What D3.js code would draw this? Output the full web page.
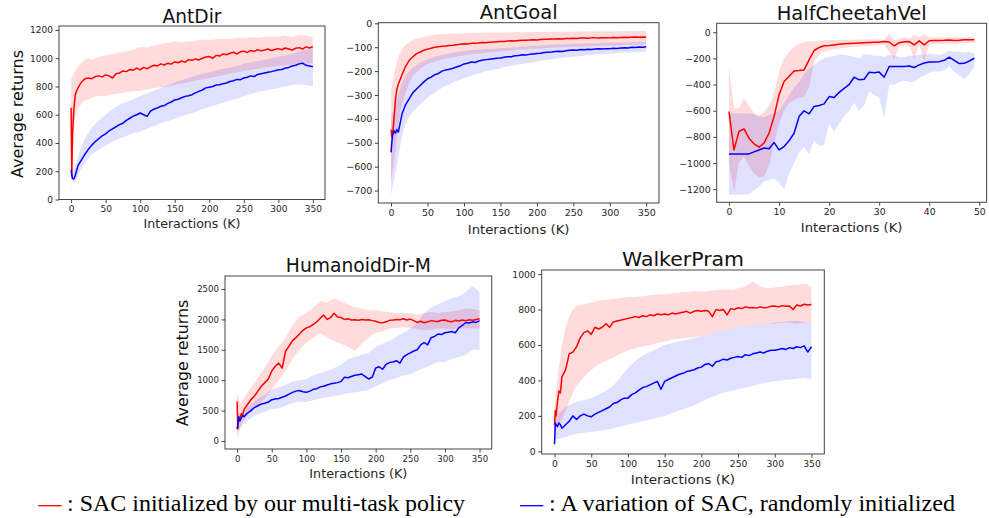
<!DOCTYPE html>
<html>
<head>
<meta charset="utf-8">
<script src="https://cdn.jsdelivr.net/npm/d3@7"></script>
<style>
  body { margin: 0; background: #fff; }
  svg { display: block; }
</style>
</head>
<body>
<svg id="fig" width="989" height="518"></svg>
<script>
// Learning curves: SAC from multi-task policy (red) vs random init (blue)

// x positions (K interactions) of the mean curves and of the shaded bands
var xs350 = [0,1,2,4,6,8,10,
  15,20,25,30,35,40,45,50,55,60,
  65,70,75,80,85,90,95,100,105,110,
  115,120,125,130,135,140,145,150,155,160,
  165,170,175,180,185,190,195,200,205,210,
  215,220,225,230,235,240,245,250,255,260,
  265,270,275,280,285,290,295,300,305,310,
  315,320,325,330,335,340,345,350];
var bandXs350 = [0,5,10,15,20,25,30,
  40,50,60,70,80,90,100,110,120,130,
  140,150,160,170,180,190,200,210,220,230,
  240,250,260,270,280,290,300,310,320,330,
  340,350];
var cheetahXs = [0,1,2,3,4,5,6,7,8,9,10,11,12,13,14,15,16,17,18,19,
  20,21,22,23,24,25,26,27,28,29,30,31,32,33,34,35,36,37,38,39,
  40,41,42,43,44,45,46,47,48,49];

// tick labels
var ticks350 = [0,50,100,150,200,250,300,350];
var ticksCheetahX = [0,10,20,30,40,50];
var antDirYTicks = [0,200,400,600,800,1000,1200];
var antGoalYTicks = [0,-100,-200,-300,-400,-500,-600,-700];
var cheetahYTicks = [0,-200,-400,-600,-800,-1000,-1200];
var humanoidYTicks = [0,500,1000,1500,2000,2500];
var walkerYTicks = [0,200,400,600,800,1000];

var panelTitles = ["AntDir","AntGoal","HalfCheetahVel","HumanoidDir-M","WalkerPram"];
var xAxisLabel = "Interactions (K)";
var yAxisLabel = "Average returns";
var legendLabels = [": SAC initialized by our multi-task policy", ": A variation of SAC, randomly initialized"];

// ---- AntDir ----
var antDirRed = [650,170,450,640,740,770,790,
  830,855,860,855,870,875,868,882,875,860,
  890,895,910,905,920,915,930,918,935,925,
  940,950,945,960,952,965,958,975,968,980,
  972,990,985,995,988,1000,1008,1012,1000,1020,
  1015,1030,1025,1035,1042,1030,1045,1050,1040,1055,
  1048,1060,1052,1058,1065,1055,1062,1068,1060,1072,
  1065,1058,1070,1075,1065,1080,1072,1082];
var antDirBlue = [210,175,150,145,170,205,240,
  280,320,355,385,410,430,450,465,485,500,
  515,530,540,560,575,590,600,612,600,588,
  625,640,648,660,665,680,690,705,710,720,
  730,735,742,755,765,775,790,795,800,810,
  812,820,825,835,840,850,848,860,865,875,
  870,885,890,895,900,905,912,918,920,930,
  935,945,950,960,965,950,945,940];
var antDirRedHi = [850,900,940,970,990,1000,990,
  1010,1020,1030,1040,1050,1060,1080,1075,1090,1100,
  1110,1120,1115,1120,1125,1130,1130,1135,1140,1135,
  1145,1140,1150,1145,1150,1155,1150,1160,1150,1165,
  1160,1150];
var antDirRedLo = [60,560,640,680,700,710,720,
  735,730,745,750,760,765,770,780,790,795,
  800,810,820,830,840,850,860,870,880,890,
  900,910,918,925,935,940,945,950,955,958,
  960,965];
var antDirBlueHi = [230,220,300,380,430,470,510,
  560,600,640,670,690,710,730,750,770,790,
  810,830,845,860,875,890,900,915,925,935,
  945,960,970,980,990,1000,1010,1020,1030,1050,
  1060,1070];
var antDirBlueLo = [150,110,170,220,260,290,320,
  350,380,410,430,450,470,480,500,520,540,
  555,570,590,605,620,640,655,670,685,700,
  715,730,745,760,770,780,790,800,810,815,
  810,800];

// ---- AntGoal ----
var antGoalRed = [-445,-475,-470,-400,-320,-275,-255,
  -215,-180,-155,-140,-127,-120,-113,-108,-104,-100,
  -98,-96,-95,-93,-92,-90,-88,-86,-87,-84,
  -83,-82,-80,-81,-79,-78,-77,-76,-76,-74,
  -73,-74,-72,-71,-71,-70,-69,-70,-68,-67,
  -67,-66,-66,-65,-66,-64,-64,-63,-64,-62,
  -62,-63,-61,-61,-62,-60,-60,-61,-59,-60,
  -59,-58,-59,-58,-57,-58,-57,-58];
var antGoalBlue = [-540,-500,-470,-450,-460,-445,-455,
  -380,-340,-315,-290,-275,-260,-245,-232,-225,-215,
  -210,-200,-195,-192,-188,-183,-178,-170,-167,-162,
  -164,-158,-155,-152,-150,-148,-146,-145,-142,-140,
  -140,-136,-135,-132,-133,-130,-128,-126,-125,-122,
  -121,-120,-118,-117,-118,-115,-113,-112,-113,-110,
  -111,-109,-110,-108,-107,-108,-106,-106,-104,-105,
  -103,-102,-103,-100,-101,-99,-100,-98];
var antGoalRedHi = [-280,-200,-140,-110,-90,-80,-70,
  -60,-52,-48,-46,-44,-43,-42,-41,-40,-40,
  -39,-38,-38,-37,-37,-36,-36,-36,-35,-35,
  -35,-34,-34,-34,-33,-33,-33,-33,-32,-32,
  -32,-32];
var antGoalRedLo = [-660,-560,-420,-340,-290,-250,-220,
  -190,-170,-160,-150,-145,-140,-135,-130,-127,-123,
  -120,-118,-115,-112,-110,-108,-106,-104,-102,-100,
  -99,-98,-97,-96,-95,-94,-93,-92,-91,-90,
  -90,-88];
var antGoalBlueHi = [-400,-340,-300,-250,-220,-200,-185,
  -165,-150,-140,-132,-126,-120,-116,-112,-110,-108,
  -106,-104,-102,-100,-98,-96,-94,-92,-90,-89,
  -88,-86,-85,-84,-83,-82,-81,-80,-80,-79,
  -78,-78];
var antGoalBlueLo = [-720,-640,-560,-470,-420,-390,-370,
  -340,-310,-290,-270,-255,-240,-230,-220,-210,-200,
  -195,-188,-180,-175,-170,-165,-160,-155,-150,-146,
  -142,-140,-137,-134,-131,-128,-126,-124,-122,-121,
  -120,-118];

// ---- HalfCheetahVel ----
var cheetahRed = [-606,-899,-759,-739,-810,-853,-879,-848,-772,-645,
  -479,-377,-339,-296,-293,-288,-211,-140,-117,-104,
  -102,-97,-92,-89,-87,-85,-83,-81,-79,-77,
  -76,-72,-75,-104,-80,-73,-72,-97,-66,-97,
  -65,-64,-63,-62,-60,-64,-62,-58,-57,-57];
var cheetahBlue = [-930,-930,-930,-930,-930,-915,-900,-885,-890,-843,
  -899,-874,-830,-772,-645,-601,-624,-568,-560,-548,
  -492,-499,-460,-430,-400,-344,-364,-360,-306,-310,
  -305,-344,-262,-262,-262,-262,-258,-270,-250,-235,
  -228,-228,-225,-215,-191,-215,-240,-238,-220,-199];
var cheetahRedHi = [-262,-581,-582,-504,-560,-620,-640,-610,-560,-470,
  -300,-200,-150,-110,-90,-75,-70,-70,-65,-62,
  -60,-60,-60,-58,-58,-57,-56,-55,-55,-54,
  -54,-60,-10,-60,-50,-40,-50,-20,-40,-15,
  -40,-40,-40,-40,-38,-40,-40,-38,-36,-36];
var cheetahRedLo = [-1000,-1218,-1000,-950,-1020,-1080,-1110,-1100,-1020,-850,
  -700,-600,-540,-520,-500,-500,-420,-230,-170,-150,
  -140,-130,-125,-120,-115,-112,-110,-108,-105,-102,
  -100,-95,-150,-211,-110,-100,-105,-199,-95,-224,
  -95,-90,-90,-88,-86,-90,-88,-85,-82,-82];
var cheetahBlueHi = [-620,-620,-620,-620,-620,-625,-640,-650,-630,-620,
  -600,-540,-480,-420,-380,-320,-280,-250,-220,-200,
  -190,-180,-170,-175,-180,-190,-200,-170,-170,-180,
  -180,-190,-170,-180,-190,-190,-180,-180,-170,-170,
  -165,-170,-175,-160,-140,-150,-150,-155,-150,-160];
var cheetahBlueLo = [-1240,-1245,-1240,-1240,-1240,-1210,-1180,-1140,-1130,-1120,
  -1150,-1200,-1080,-1000,-920,-880,-930,-830,-870,-860,
  -700,-760,-700,-640,-600,-540,-600,-560,-450,-480,
  -500,-657,-400,-400,-380,-370,-380,-380,-350,-330,
  -310,-300,-300,-290,-260,-300,-330,-360,-320,-260];

// ---- HumanoidDir-M ----
var humanoidRed = [650,200,330,380,450,420,520,
  600,680,740,820,900,960,1020,1150,1230,1280,
  1200,1480,1560,1650,1700,1760,1820,1860,1880,1920,
  1960,2020,2070,2000,2030,2100,2040,2030,2000,2010,
  1990,1995,1985,2000,1990,1995,1980,1970,1950,1945,
  1960,1985,1990,2000,1995,2010,1990,2005,1980,1950,
  1970,1945,1960,1980,1970,1965,1985,1990,1970,1960,
  1985,1975,1990,1980,1995,1985,2000,2010];
var humanoidBlue = [200,280,400,330,380,420,400,
  460,500,550,580,610,620,640,680,690,700,
  720,740,770,800,820,830,810,800,820,850,
  860,890,900,920,940,950,960,980,1050,1040,
  1060,1080,1090,1100,1060,1020,1050,1200,1220,1180,
  1260,1290,1300,1320,1280,1380,1420,1450,1480,1500,
  1580,1620,1580,1700,1720,1760,1750,1780,1790,1800,
  1780,1860,1900,1950,1940,1960,1950,1980];
var humanoidRedHi = [800,600,700,800,880,950,1050,
  1200,1400,1550,1700,1900,2050,2100,2200,2300,2280,
  2350,2300,2250,2200,2180,2150,2150,2130,2120,2100,
  2110,2100,2080,2100,2120,2100,2120,2130,2150,2180,
  2170,2150];
var humanoidRedLo = [50,250,350,430,500,550,600,
  700,850,1000,1150,1350,1500,1620,1700,1780,1700,
  1650,1600,1550,1480,1600,1700,1780,1800,1850,1860,
  1870,1860,1840,1820,1830,1850,1850,1840,1850,1860,
  1850,1850];
var humanoidBlueHi = [450,450,520,560,600,650,700,
  760,850,880,920,980,1000,1020,1080,1120,1150,
  1200,1250,1350,1380,1420,1450,1550,1600,1650,1720,
  1780,1850,1950,2100,2200,2250,2300,2350,2380,2450,
  2550,2450];
var humanoidBlueLo = [150,220,300,340,380,410,440,
  480,520,540,580,620,650,640,670,700,720,
  740,760,790,800,820,840,900,950,1000,1030,
  1080,1100,1150,1200,1250,1300,1300,1350,1380,1420,
  1500,1500];

// ---- WalkerPram ----
var walkerRed = [150,230,200,280,340,330,420,
  460,550,560,590,640,670,680,660,700,690,
  700,720,700,730,735,740,745,750,755,760,
  755,765,760,770,765,775,770,775,770,780,
  775,780,785,790,780,790,795,790,795,790,
  760,800,795,800,770,805,800,810,805,815,
  810,812,808,815,810,812,818,820,815,822,
  818,820,800,825,820,830,825,828];
var walkerBlue = [40,160,150,140,160,150,130,
  150,170,200,180,200,210,200,195,210,220,
  230,240,250,270,275,290,300,300,320,330,
  345,360,365,375,385,395,350,395,405,415,
  425,435,440,450,455,460,470,475,490,495,
  480,505,510,520,515,525,530,535,530,545,
  540,550,555,560,555,565,570,570,575,580,
  575,585,580,590,585,595,560,590];
var walkerRedHi = [250,450,600,700,760,800,820,
  830,840,850,855,860,865,870,870,875,880,
  885,885,890,895,900,905,900,905,910,915,
  910,920,930,960,930,920,925,930,935,940,
  945,930];
var walkerRedLo = [100,140,180,230,280,330,370,
  420,460,490,510,530,550,570,580,590,600,
  610,620,630,635,640,645,650,660,670,680,
  690,700,705,710,715,720,720,725,725,720,
  725,720];
var walkerBlueHi = [200,220,230,250,260,270,280,
  290,300,320,340,370,420,470,510,540,560,
  580,600,610,620,630,640,650,660,670,680,
  690,700,705,710,715,720,725,730,735,735,
  730,720];
var walkerBlueLo = [60,70,75,80,90,95,100,
  105,110,115,120,130,140,150,160,170,180,
  190,200,215,230,245,260,280,300,315,330,
  340,350,360,370,380,390,395,400,405,410,
  415,410];

// Layout of each subplot (pixel boxes)
var panels = [
  { key: "antDir", title: panelTitles[0], left: 59, right: 325, top: 26, bottom: 199.5,
    xDom: [-17.5, 367.5], yDom: [0, 1228], xTicks: ticks350, yTicks: antDirYTicks,
    xs: xs350, bx: bandXs350,
    red: antDirRed, blue: antDirBlue, redLo: antDirRedLo, redHi: antDirRedHi, blueLo: antDirBlueLo, blueHi: antDirBlueHi,
    titleBase: 22.5, titleW: 59, xLabBase: 228, xLabW: 97, tickSize: 9, yLab: { x: 23, y: 114, w: 128 } },
  { key: "antGoal", title: panelTitles[1], left: 378.3, right: 659, top: 22.7, bottom: 203,
    xDom: [-17.5, 367.5], yDom: [-752, 2.5], xTicks: ticks350, yTicks: antGoalYTicks,
    xs: xs350, bx: bandXs350,
    red: antGoalRed, blue: antGoalBlue, redLo: antGoalRedLo, redHi: antGoalRedHi, blueLo: antGoalBlueLo, blueHi: antGoalBlueHi,
    titleBase: 18.5, titleW: 78, xLabBase: 234, xLabW: 101.7, tickSize: 9.5 },
  { key: "cheetah", title: panelTitles[2], left: 716.7, right: 986.6, top: 23.3, bottom: 202.3,
    xDom: [-2.45, 51.45], yDom: [-1300, 68], xTicks: ticksCheetahX, yTicks: cheetahYTicks,
    xs: cheetahXs, bx: cheetahXs,
    red: cheetahRed, blue: cheetahBlue, redLo: cheetahRedLo, redHi: cheetahRedHi, blueLo: cheetahBlueLo, blueHi: cheetahBlueHi,
    titleBase: 20, titleW: 150, xLabBase: 231.5, xLabW: 101.7, tickSize: 9.3 },
  { key: "humanoid", title: panelTitles[3], left: 225, right: 491.7, top: 276, bottom: 449,
    xDom: [-17.5, 367.5], yDom: [-132, 2714], xTicks: ticks350, yTicks: humanoidYTicks,
    xs: xs350, bx: bandXs350,
    red: humanoidRed, blue: humanoidBlue, redLo: humanoidRedLo, redHi: humanoidRedHi, blueLo: humanoidBlueLo, blueHi: humanoidBlueHi,
    titleBase: 271.7, titleW: 145, xLabBase: 478, xLabW: 98, tickSize: 8.6, yLab: { x: 187.5, y: 363, w: 126.7 } },
  { key: "walker", title: panelTitles[4], left: 541.7, right: 824.3, top: 270, bottom: 454,
    xDom: [-17.5, 367.5], yDom: [-15, 1023], xTicks: ticks350, yTicks: walkerYTicks,
    xs: xs350, bx: bandXs350,
    red: walkerRed, blue: walkerBlue, redLo: walkerRedLo, redHi: walkerRedHi, blueLo: walkerBlueLo, blueHi: walkerBlueHi,
    titleBase: 265.5, titleW: 122, xLabBase: 484, xLabW: 104.3, tickSize: 9.2 }
];

var svg = d3.select("#fig");
svg.append("rect").attr("width", 989).attr("height", 518).attr("fill", "#fff");
var defs = svg.append("defs");
var fmt = d3.format("d");

function drawPanel(p) {
  var g = svg.append("g").attr("class", "panel " + p.key);
  var x = d3.scaleLinear().domain(p.xDom).range([p.left, p.right]);
  var y = d3.scaleLinear().domain(p.yDom).range([p.bottom, p.top]);

  // clip to the axes box, like matplotlib does
  defs.append("clipPath").attr("id", "clip-" + p.key)
    .append("rect")
    .attr("x", p.left).attr("y", p.top)
    .attr("width", p.right - p.left).attr("height", p.bottom - p.top);
  var plot = g.append("g").attr("clip-path", "url(#clip-" + p.key + ")");

  // shaded bands first
  var redArea = d3.area()
    .x(function(d, i) { return x(p.bx[i]); })
    .y0(function(d) { return y(d); })
    .y1(function(d, i) { return y(p.redHi[i]); });
  var blueArea = d3.area()
    .x(function(d, i) { return x(p.bx[i]); })
    .y0(function(d) { return y(d); })
    .y1(function(d, i) { return y(p.blueHi[i]); });
  plot.append("path").datum(p.redLo).attr("d", redArea)
    .attr("fill", "#ff0000").attr("fill-opacity", 0.14);
  plot.append("path").datum(p.blueLo).attr("d", blueArea)
    .attr("fill", "#0000ff").attr("fill-opacity", 0.12);

  // mean curves
  var line = d3.line()
    .x(function(d, i) { return x(p.xs[i]); })
    .y(function(d) { return y(d); });
  plot.append("path").datum(p.red).attr("d", line)
    .attr("fill", "none").attr("stroke", "#ff0000").attr("stroke-width", 1.5).attr("stroke-linejoin", "round");
  plot.append("path").datum(p.blue).attr("d", line)
    .attr("fill", "none").attr("stroke", "#0000ff").attr("stroke-width", 1.5).attr("stroke-linejoin", "round");

  // axes
  var xAxis = g.append("g")
    .attr("transform", "translate(0," + p.bottom + ")")
    .call(d3.axisBottom(x).tickValues(p.xTicks).tickFormat(fmt).tickSize(3.5).tickPadding(3));
  var yAxis = g.append("g")
    .attr("transform", "translate(" + p.left + ",0)")
    .call(d3.axisLeft(y).tickValues(p.yTicks).tickFormat(fmt).tickSize(3.5).tickPadding(2.5));
  [xAxis, yAxis].forEach(function(a) {
    a.select(".domain").remove();
    a.attr("font-family", "'DejaVu Sans', sans-serif").attr("font-size", p.tickSize);
    a.selectAll(".tick line").attr("stroke", "#444");
    a.selectAll(".tick text").attr("fill", "#262626");
  });

  // frame
  g.append("rect")
    .attr("x", p.left).attr("y", p.top)
    .attr("width", p.right - p.left).attr("height", p.bottom - p.top)
    .attr("fill", "none").attr("stroke", "#444").attr("stroke-width", 1);

  // title
  g.append("text")
    .attr("x", (p.left + p.right) / 2).attr("y", p.titleBase)
    .attr("text-anchor", "middle")
    .attr("font-family", "'DejaVu Sans', sans-serif").attr("font-size", 19)
    .attr("fill", "#111")
    .attr("textLength", p.titleW).attr("lengthAdjust", "spacingAndGlyphs")
    .text(p.title);

  // x label
  g.append("text")
    .attr("x", (p.left + p.right) / 2).attr("y", p.xLabBase)
    .attr("text-anchor", "middle")
    .attr("font-family", "'DejaVu Sans', sans-serif").attr("font-size", 12.5)
    .attr("fill", "#262626")
    .attr("textLength", p.xLabW).attr("lengthAdjust", "spacingAndGlyphs")
    .text(xAxisLabel);

  // y label (only on the left-most panels)
  if (p.yLab) {
    g.append("text")
      .attr("transform", "translate(" + p.yLab.x + "," + p.yLab.y + ") rotate(-90)")
      .attr("text-anchor", "middle")
      .attr("font-family", "'DejaVu Sans', sans-serif").attr("font-size", 15.5)
      .attr("fill", "#111")
      .attr("textLength", p.yLab.w).attr("lengthAdjust", "spacingAndGlyphs")
      .text(yAxisLabel);
  }
}

panels.forEach(drawPanel);

// Legend at the bottom, Times-like serif
var legendColors = ["#ff0000", "#0000ff"];
var legendPos = [ { x0: 38.3, x1: 61.7, tx: 67, tw: 398 },
                  { x0: 520, x1: 543.3, tx: 549, tw: 406 } ];
var legend = svg.append("g").attr("class", "legend");
legendLabels.forEach(function(lab, i) {
  var lp = legendPos[i];
  legend.append("line")
    .attr("x1", lp.x0).attr("x2", lp.x1)
    .attr("y1", 505.7).attr("y2", 505.7)
    .attr("stroke", legendColors[i]).attr("stroke-width", 1.3);
  legend.append("text")
    .attr("x", lp.tx).attr("y", 511.3)
    .attr("font-family", "'Liberation Serif', 'Times New Roman', serif")
    .attr("font-size", 23.5)
    .attr("fill", "#000")
    .attr("textLength", lp.tw).attr("lengthAdjust", "spacingAndGlyphs")
    .text(lab);
});
</script>
</body>
</html>
